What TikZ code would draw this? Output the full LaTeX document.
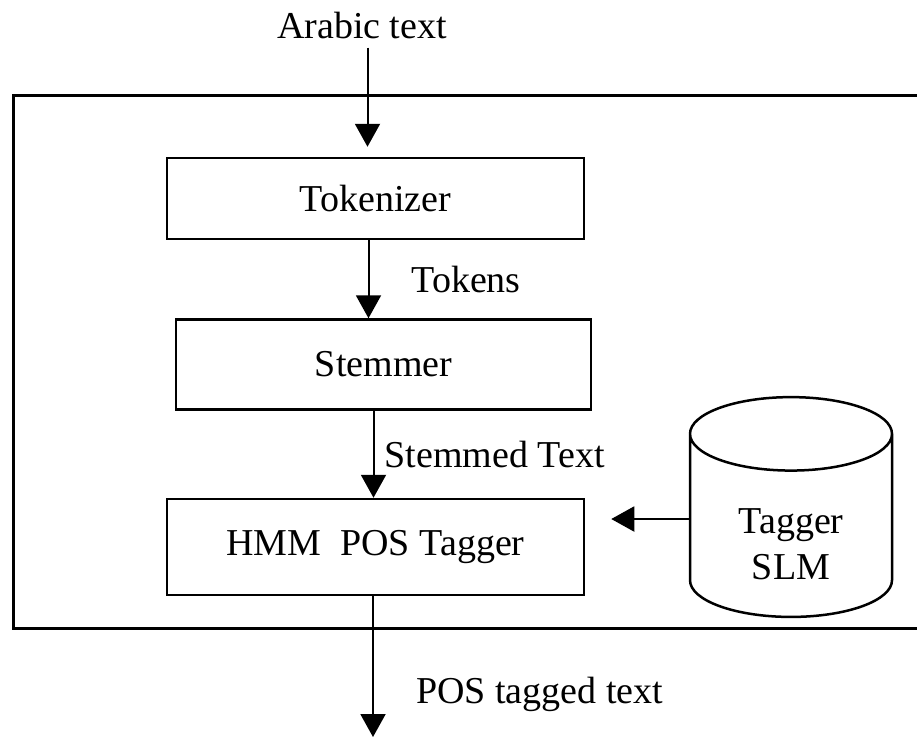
\documentclass[tikz,border=0pt]{standalone}
\usepackage{fontspec}
\setmainfont{Liberation Serif}
\usetikzlibrary{positioning, arrows.meta, shapes.geometric}
\tikzset{
  blk/.style={draw, line width=2.5pt, minimum width=417pt, minimum height=81pt, inner sep=0pt},
  lbl/.style={inner sep=0pt},
  db/.style={draw, line width=2.5pt, cylinder, shape border rotate=90, aspect=0.7,
             minimum width=202pt, minimum height=200pt, align=center, inner sep=0pt},
  arr/.style={-{Triangle[length=23pt, width=25pt]}, line width=2pt},
}

\begin{document}
\begin{tikzpicture}[x=1pt, y=-1pt, font=\fontsize{38}{46}\selectfont]
        \useasboundingbox (0,0) rectangle (917,737);
        % outer frame (right side runs off the page)
        \draw[line width=3pt] (917,95) -- (13,95) -- (13,628) -- (917,628);
        \node[blk](tok) at (375.5,198.5){Tokenizer};
        \node[blk, minimum width=415pt, minimum height=90pt, below=78pt of tok, xshift=8pt](stem){Stemmer};
        \node[blk, minimum height=96pt, below=87pt of stem, xshift=-8pt](hmm){HMM\ \ POS Tagger};
        \node[db](slm) at (791,526){\rule{0pt}{62pt}Tagger\\SLM};
        \node[lbl](in) at (362,25){Arabic text};
        \coordinate (out) at (373,737);
        \draw[arr, shorten >=10pt]([yshift=-9pt]in.south -| tok.north) ++(-8,0) -- ([xshift=-8pt]tok.north);
        \draw[arr]([xshift=-7pt]tok.south) -- ([xshift=-7pt]tok.south |- stem.north)
          node[lbl, midway, right=42pt]{Tokens};
        \draw[arr]([xshift=-10pt]stem.south) -- ([xshift=-10pt]stem.south |- hmm.north)
          node[lbl, midway, right=10pt]{Stemmed Text};
        \draw[arr, shorten >=26pt](slm.west |- 0,519) -- (hmm.east |- 0,519);
        \draw[arr](hmm.south -| out) -- (out)
          node[lbl, pos=0.7, right=42pt]{POS tagged text};
      \end{tikzpicture}
\end{document}
